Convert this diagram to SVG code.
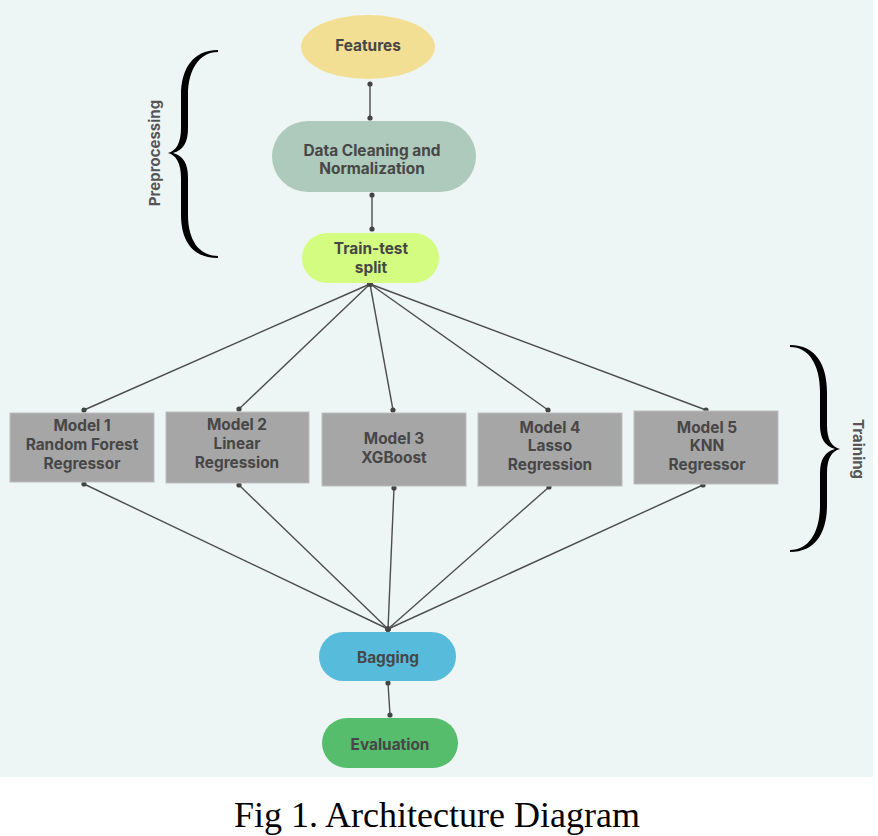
<svg xmlns="http://www.w3.org/2000/svg" width="878" height="836" viewBox="0 0 878 836">
<defs>
<style>
.lbl{font-family:Inter,"Open Sans","Liberation Sans",sans-serif;font-weight:700;font-size:15.4px;fill:#474747;text-anchor:middle;dominant-baseline:central}
.side{font-family:Inter,"Open Sans","Liberation Sans",sans-serif;font-weight:700;font-size:15px;fill:#555;text-anchor:middle;dominant-baseline:central}
.model{fill:#a6a6a6;stroke:#bdbdbd;stroke-width:1}
.edge{stroke:#4d4d4d;stroke-width:1.4;fill:none;marker-start:url(#dot);marker-end:url(#dot)}
.brace{fill:#000}
</style>
<marker id="dot" markerWidth="6" markerHeight="6" refX="3" refY="3" markerUnits="userSpaceOnUse">
<circle cx="3" cy="3" r="2.6" fill="#444"/>
</marker>
</defs>
<rect x="0" y="0" width="878" height="836" fill="#ffffff"/>
<rect x="0" y="0" width="873" height="777" fill="#eef6f5"/>

<g id="connectors">
<line class="edge" x1="370" y1="84" x2="370" y2="118"/>
<line class="edge" x1="372" y1="195" x2="372" y2="229"/>
<line class="edge" x1="370" y1="284" x2="84" y2="410"/>
<line class="edge" x1="370" y1="284" x2="239" y2="409"/>
<line class="edge" x1="370" y1="284" x2="393" y2="410"/>
<line class="edge" x1="370" y1="284" x2="548" y2="410"/>
<line class="edge" x1="370" y1="284" x2="706" y2="410"/>
<line class="edge" x1="84" y1="484" x2="388" y2="629"/>
<line class="edge" x1="239" y1="485" x2="388" y2="629"/>
<line class="edge" x1="394" y1="488" x2="388" y2="629"/>
<line class="edge" x1="549" y1="487" x2="388" y2="629"/>
<line class="edge" x1="703" y1="485" x2="388" y2="629"/>
<line class="edge" x1="388" y1="683" x2="390" y2="715"/>
</g>

<g id="features">
<ellipse cx="368" cy="47" rx="67" ry="32" fill="#f3df94"/>
<text class="lbl" x="368" y="45">Features</text>
</g>

<g id="cleaning">
<rect x="272" y="121" width="204" height="71" rx="35.5" fill="#aecabd"/>
<text class="lbl" x="372" y="150">Data Cleaning and</text>
<text class="lbl" x="372" y="168">Normalization</text>
</g>

<g id="split">
<rect x="302" y="233" width="137" height="50" rx="25" fill="#d3fc80"/>
<text class="lbl" x="371" y="248">Train-test</text>
<text class="lbl" x="371" y="267">split</text>
</g>

<g id="model1">
<rect class="model" x="10" y="413" width="144" height="69"/>
<text class="lbl" x="82" y="425">Model 1</text>
<text class="lbl" x="82" y="444">Random Forest</text>
<text class="lbl" x="82" y="463">Regressor</text>
</g>
<g id="model2">
<rect class="model" x="166" y="412" width="143" height="71"/>
<text class="lbl" x="237" y="424">Model 2</text>
<text class="lbl" x="237" y="443">Linear</text>
<text class="lbl" x="237" y="462">Regression</text>
</g>
<g id="model3">
<rect class="model" x="322" y="413" width="144" height="73"/>
<text class="lbl" x="394" y="438">Model 3</text>
<text class="lbl" x="394" y="457">XGBoost</text>
</g>
<g id="model4">
<rect class="model" x="478" y="413" width="144" height="73"/>
<text class="lbl" x="550" y="427">Model 4</text>
<text class="lbl" x="550" y="445">Lasso</text>
<text class="lbl" x="550" y="464">Regression</text>
</g>
<g id="model5">
<rect class="model" x="634" y="411" width="144" height="73"/>
<text class="lbl" x="707" y="427">Model 5</text>
<text class="lbl" x="707" y="445">KNN</text>
<text class="lbl" x="707" y="464">Regressor</text>
</g>

<g id="bagging">
<rect x="319" y="632" width="137" height="49" rx="24.5" fill="#57bcdc"/>
<text class="lbl" x="388" y="657">Bagging</text>
</g>

<g id="evaluation">
<rect x="322" y="718" width="136" height="50" rx="25" fill="#55bd6c"/>
<text class="lbl" x="390" y="744">Evaluation</text>
</g>

<g id="preprocessing-brace">
<path class="brace" d="M218,50 C192,50 181,70 181,95 L181,128 C181,143 176,151 168,153 C176,155 181,163 181,178 L181,215 C181,240 192,258 218,258 L218,256 C199,256 188,240 188,215 L188,178 C188,163 183,156 173,153 C183,150 188,143 188,128 L188,95 C188,70 199,52 218,52 Z"/>
<text class="side" transform="translate(154,153) rotate(-90)">Preprocessing</text>
</g>

<g id="training-brace">
<path class="brace" d="M790,345 C816,345 827,365 827,392 L827,425 C827,440 832,447 840,449 C832,451 827,458 827,473 L827,505 C827,532 816,552 790,552 L790,550 C809,550 820,532 820,505 L820,473 C820,459 825,452 835,449 C825,446 820,439 820,425 L820,392 C820,365 809,347 790,347 Z"/>
<text class="side" transform="translate(858,449) rotate(90)">Training</text>
</g>

<text x="437" y="827" font-family="'Liberation Serif','Times New Roman',serif" font-size="36" fill="#000" text-anchor="middle">Fig 1. Architecture Diagram</text>
</svg>
